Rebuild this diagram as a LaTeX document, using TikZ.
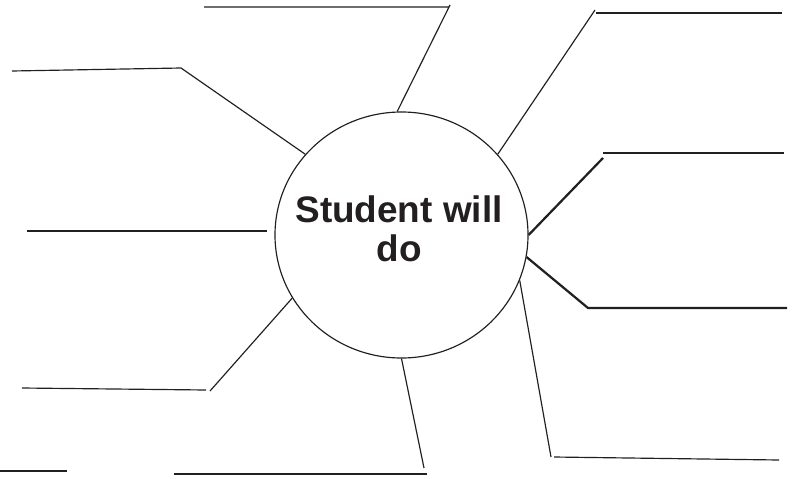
\documentclass[tikz,border=0pt]{standalone}
\usepackage{fontspec}
\setmainfont{Liberation Sans}
\usetikzlibrary{shapes.geometric}
\definecolor{ink}{HTML}{231F20}

\begin{document}
\begin{tikzpicture}[
  x=0.03cm, y=-0.03cm,
  every node/.style={text=ink},
  hub/.style={ellipse, draw=ink, line width=1pt, inner sep=0pt,
              minimum width=7.59cm, minimum height=7.38cm},
  title/.style={font=\fontsize{31.5}{33}\selectfont\bfseries, align=center, inner sep=0pt},
  spoke/.style={draw=ink, line width=1pt},
  spokebold/.style={draw=ink, line width=1.9pt},
]
\useasboundingbox (0,0) rectangle (796,478);

% ---------------- NODES (pixel grid, y down) ----------------
\node[hub] (HUB) at (401.5,235) {};
\node[title] (TITLE) at (399,228.5) {Student will\\do};

% spoke tips and the blank lines beside them
\coordinate (nTip) at (450,5);    \coordinate (nL) at (204,7);    \coordinate (nR) at (449,7);
\coordinate (nwTip) at (181,68);  \coordinate (nwL) at (12,71);
\coordinate (neTip) at (595,10);  \coordinate (neL) at (596,13);  \coordinate (neR) at (782,13);
\coordinate (eTip) at (603,158);  \coordinate (eL) at (603,153);  \coordinate (eR) at (784,153);
\coordinate (esTip) at (588,308); \coordinate (esR) at (787,308);
\coordinate (seTip) at (551,457); \coordinate (seL) at (554,457); \coordinate (seR) at (779,460);
\coordinate (sTip) at (424,468);  \coordinate (sL) at (174,474);  \coordinate (sR) at (427,474);
\coordinate (swTip) at (210,391); \coordinate (swL) at (22,388);  \coordinate (swR) at (206,390);
\coordinate (wL) at (27,231);     \coordinate (wR) at (267,231);
\coordinate (cornerL) at (0,471); \coordinate (cornerR) at (67,471);

% ---------------- SPOKES ----------------
\draw[spoke] (HUB.92) -- (nTip) -- (nR) -- (nL);
\draw[spoke] (HUB.140) -- (nwTip) -- (nwL);
\draw[spoke] (HUB.40) -- (neTip);
\draw[spoke] (neL) -- (neR);
\draw[spokebold] (HUB.0) -- (eTip);
\draw[spokebold] (eL) -- (eR);
\draw[spokebold] (HUB.-10) -- (esTip) -- (esR);
\draw[spoke] (HUB.-21) -- (seTip);
\draw[spoke] (seL) -- (seR);
\draw[spoke] (HUB.-90) -- (sTip);
\draw[spoke] (sL) -- (sR);
\draw[spoke] (HUB.210) -- (swTip);
\draw[spoke] (swL) -- (swR);

% ---------------- LOOSE LINES ----------------
\draw[spokebold] (wL) -- (wR);
\draw[spoke] (cornerL) -- (cornerR);
\end{tikzpicture}
\end{document}
